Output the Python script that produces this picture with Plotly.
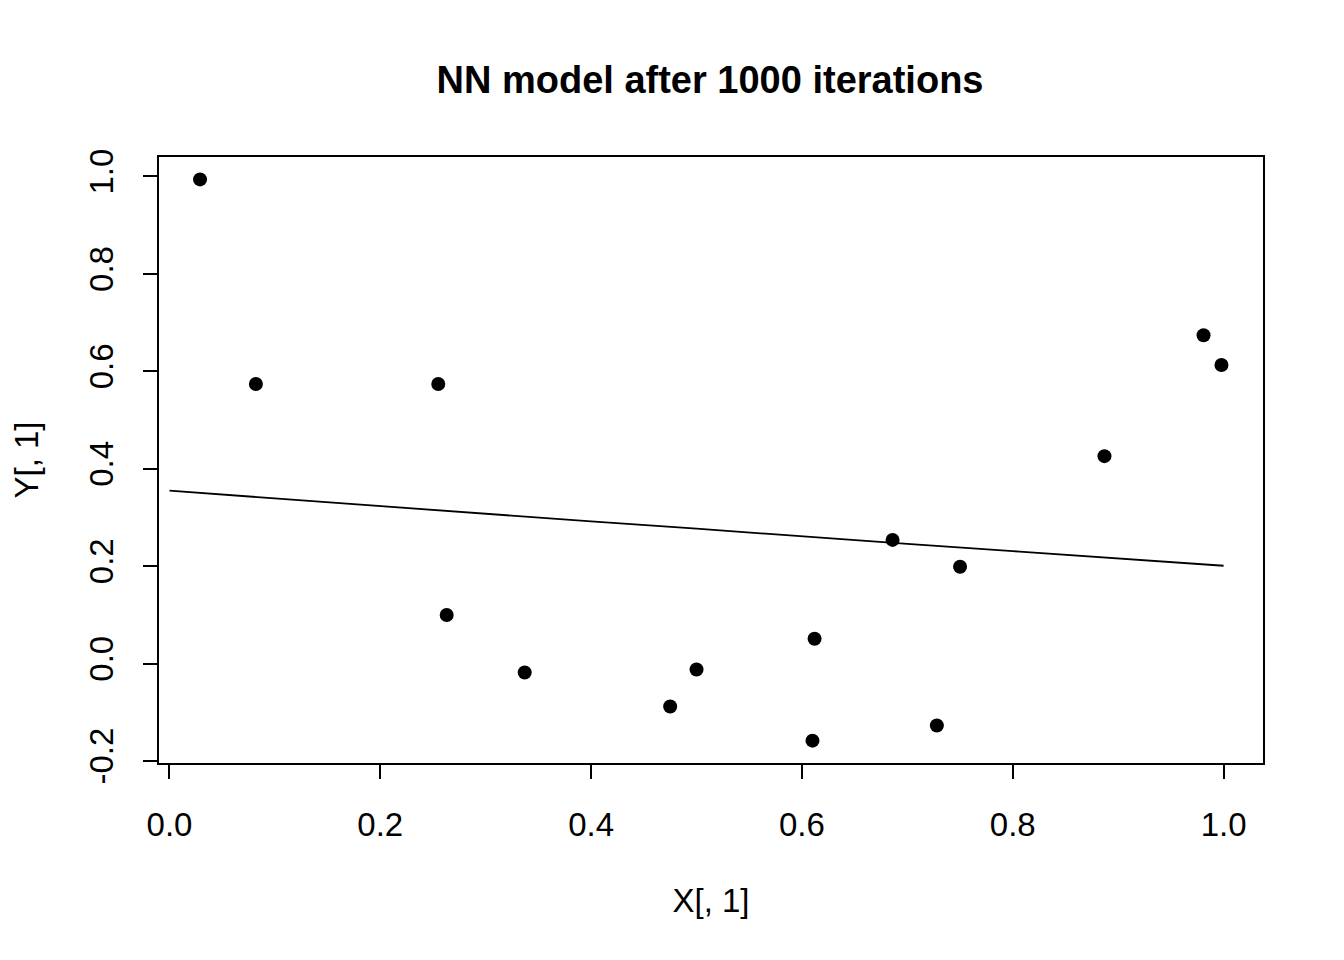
import plotly.graph_objects as go

# Data points
x_points = [0.029, 0.082, 0.255, 0.263, 0.337, 0.475, 0.500, 0.610, 0.612,
            0.686, 0.728, 0.750, 0.887, 0.981, 0.998]
y_points = [0.994, 0.574, 0.574, 0.100, -0.018, -0.088, -0.012, -0.158, 0.051,
            0.254, -0.127, 0.199, 0.426, 0.674, 0.613]

# NN model prediction curve
x_line = [0.0, 0.1, 0.2, 0.3, 0.4, 0.5, 0.6, 0.7, 0.8, 0.9, 1.0]
y_line = [0.355, 0.339, 0.323, 0.307, 0.292, 0.277, 0.261, 0.246, 0.231, 0.216, 0.201]

tick_vals_x = [0.0, 0.2, 0.4, 0.6, 0.8, 1.0]
tick_vals_y = [-0.2, 0.0, 0.2, 0.4, 0.6, 0.8, 1.0]

FONT = "Liberation Sans, Arial, sans-serif"

fig = go.Figure()
fig.add_trace(go.Scatter(x=x_points, y=y_points, mode="markers",
                         marker=dict(color="black", size=14, line=dict(width=0)),
                         showlegend=False))
fig.add_trace(go.Scatter(x=x_line, y=y_line, mode="lines",
                         line=dict(color="black", width=1.8),
                         showlegend=False))

fig.update_layout(
    width=1344, height=960,
    paper_bgcolor="white", plot_bgcolor="white",
    margin=dict(l=148.5, r=88.5, t=148.5, b=204.5),
    title=dict(text="<b>NN model after 1000 iterations</b>",
               x=(710 - 8) / 1344, xanchor="center", y=1 - 72 / 960, yanchor="middle",
               font=dict(family=FONT, size=38, color="black")),
    font=dict(family=FONT, color="black"),
)
fig.update_xaxes(
    range=[-0.00993, 1.0374], showgrid=False, zeroline=False,
    showline=True, linecolor="black", linewidth=2, mirror=True,
    ticks="outside", ticklen=14, tickwidth=2, tickcolor="black",
    tickvals=tick_vals_x, ticktext=[f"{v:.1f}" for v in tick_vals_x],
    tickfont=dict(family=FONT, size=33, color="black"),
    ticklabelstandoff=17,
    title=dict(text="X[, 1]", font=dict(family=FONT, size=33, color="black"), standoff=47),
)
fig.update_yaxes(
    range=[-0.2039, 1.04], showgrid=False, zeroline=False,
    showline=True, linecolor="black", linewidth=2, mirror=True,
    ticks="outside", ticklen=14, tickwidth=2, tickcolor="black",
    tickvals=tick_vals_y, ticktext=[f"{v:.1f}" for v in tick_vals_y],
    tickangle=-90,
    tickfont=dict(family=FONT, size=33, color="black"),
    ticklabelstandoff=17,
    title=dict(text="Y[, 1]", font=dict(family=FONT, size=33, color="black"), standoff=40),
)

fig.write_html("out.html")
